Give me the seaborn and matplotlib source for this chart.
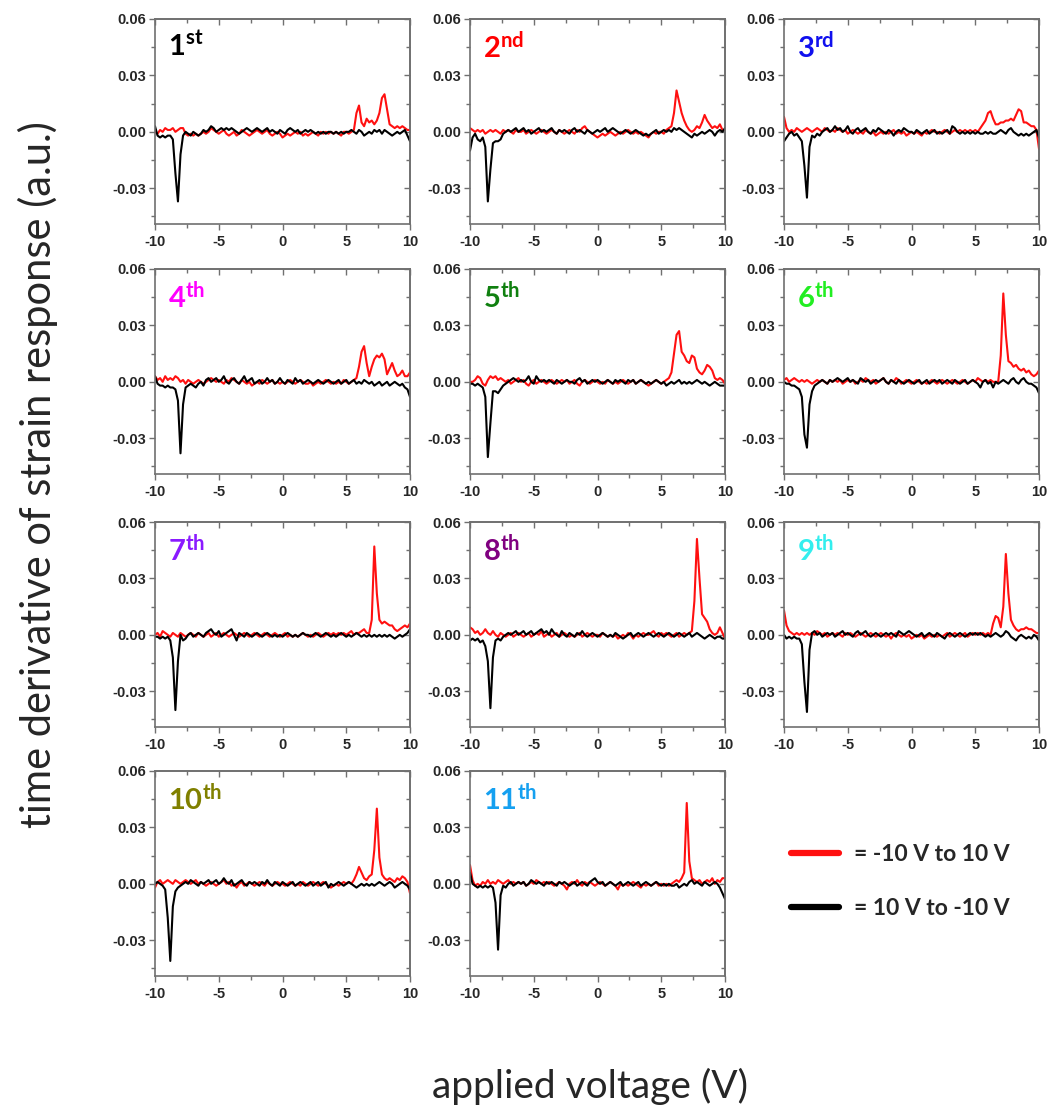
import numpy as np
import pandas as pd
import seaborn as sns
import matplotlib
matplotlib.use("Agg")
import matplotlib.pyplot as plt
from matplotlib.lines import Line2D
from matplotlib.ticker import MultipleLocator, FormatStrFormatter
from matplotlib.font_manager import FontProperties

# Voltage sweep grid (V), 0.2 V steps
volts = np.round(np.arange(-10, 10.001, 0.2), 1)

# Strain-rate traces in units of 1e-3 (a.u.); red = -10 V -> 10 V, black = 10 V -> -10 V
red_1 = [0,-1,1,0,2,1,1,2,0,1, 2,2,-1,-2,-1,-2,-1,-2,-1,0, -1,0,2,1,0,-1,0,1,-1,-2,
         -1,0,-2,-1,1,0,-1,-2,-1,0, 1,0,-1,0,1,-1,-2,-1,0,-1, -3,-2,-1,-2,-1,0,-1,0,-2,-1,
         -2,-1,0,-1,-2,0,-1,0,-1,0, -1,0,-1,-2,0,0,-1,0,1,10, 14,5,3,7,5,6,4,6,10,18,
         20,12,4,3,2,3,2,3,2,1,1]
black_1 = [3,-2,-3,-2,-3,-2,-2,-4,-22,-37, -12,-2,0,-1,-2,0,-1,-2,-1,1, 0,1,3,2,0,1,2,1,2,1,
           2,1,0,-1,0,1,2,1,0,1, 2,1,0,1,2,0,1,0,-1,1, 0,-1,1,2,1,0,1,-1,0,1,
           0,1,0,-1,0,-1,0,-1,0,0, -1,0,-1,0,-1,0,0,1,0,-1, 1,0,-2,-1,0,-1,1,0,1,-1,
           1,0,-1,-2,-1,0,-1,0,1,-2,-5]

red_2 = [2,1,0,1,0,1,-1,0,1,0, 1,0,-1,1,0,1,0,-1,1,0, 0,1,-1,0,1,0,-1,0,1,0,
         -1,0,1,0,-1,1,0,-1,0,1, 0,-1,1,0,2,3,1,0,-1,-2, -3,-2,-1,-2,-1,0,-1,-2,-1,0,
         -1,0,1,0,-1,0,-1,0,-1,-2, -3,-1,0,-1,0,0,-1,1,2,3, 10,22,16,10,6,3,1,0,1,3,
         2,5,9,6,4,2,3,2,4,1,1]
black_2 = [-10,-3,-1,-4,-5,-3,-8,-37,-20,-6, -5,-5,-4,-1,0,1,0,1,2,0, 1,2,0,1,-1,0,1,2,0,1,
           0,1,2,0,-1,1,0,1,0,-1, 1,2,0,1,0,-1,1,0,-1,0, 1,0,1,2,0,1,2,1,0,-1,
           0,1,0,-1,0,1,0,-1,-2,-1, -2,-1,0,1,-1,0,1,0,1,0, 2,1,2,1,0,-1,-2,-3,-1,-2,
           -1,0,-1,0,1,0,-2,0,1,0,2]

red_3 = [8,2,0,1,0,2,1,0,1,2, 1,0,1,2,1,0,2,1,0,1, 0,2,1,0,1,-1,0,1,0,-1,
         0,-1,1,0,-1,0,-2,-1,0,-1, 0,-1,0,1,-1,0,-1,0,-2,-1, 0,-1,0,-1,-2,0,-1,0,1,0,
         0,-1,0,1,0,-1,0,1,0,1, 0,1,0,1,0,1,0,2,4,6, 10,11,7,4,4,5,5,6,6,7,
         6,9,12,11,5,5,4,3,3,1,-9]
black_3 = [-5,-3,-1,0,-2,-1,-3,-5,-18,-35, -8,-2,-3,-1,-2,0,1,2,0,1, 3,1,2,0,1,3,0,-1,1,2,
           0,1,2,0,-1,1,0,2,1,0, -1,1,0,-2,0,1,0,2,1,0, 0,-1,1,0,-1,0,1,-1,0,1,
           -1,0,-1,0,1,-1,3,2,0,-1, 0,-1,0,-1,0,-1,0,-1,-1,0, -1,0,-1,-1,0,1,0,-1,1,2,
           0,-1,-2,-1,-2,-1,-2,-1,0,1,-3]

red_4 = [3,1,2,0,3,1,2,1,3,2, 0,1,-1,1,0,-1,0,1,0,-1, 0,1,2,1,0,1,0,-1,1,0,
         2,1,0,-1,1,0,-1,0,-2,-1, 0,-1,1,0,-1,0,1,-1,0,-1, 0,-1,0,1,0,-1,0,1,0,-1,
         -1,0,-2,-1,0,-1,0,1,0,-1, 0,-1,0,-1,1,0,-1,0,1,2, 8,16,19,10,3,8,12,14,13,15,
         12,4,7,10,6,3,4,6,3,3,5]
black_4 = [3,-1,-2,-2,-3,-2,-3,-3,-4,-10, -38,-12,-3,-2,-1,-2,-3,-1,0,-2, 1,2,0,1,2,0,1,3,0,-1,
           1,2,0,-1,1,3,0,1,2,-1, 0,1,-1,0,2,0,1,-1,0,2, 0,-1,1,0,-1,2,0,1,-1,0,
           1,0,-1,0,1,0,-1,0,1,0, -1,0,1,-1,0,1,-1,0,1,-1, 0,-1,1,0,-1,0,-2,-1,0,-2,
           -1,0,-2,-1,0,-1,-2,-1,-3,-4,-8]

red_5 = [0,0,1,3,2,-1,-2,1,3,2, 3,1,2,1,0,1,-1,0,1,2, 0,1,-1,-2,0,1,-1,0,1,0,
         -1,0,1,0,-1,0,1,0,1,-1, 0,1,-1,-2,0,1,0,-1,0,1, 0,-1,0,-1,1,0,-1,0,-1,0,
         1,0,-1,0,1,-1,0,1,0,-1, -2,-1,0,1,0,-1,0,1,2,5, 15,25,27,16,14,11,10,14,13,7,
         5,4,6,9,8,6,2,1,2,1,-1]
black_5 = [-1,-1,-2,-1,-2,-3,-8,-40,-22,-5, -5,-6,-4,-2,-1,0,1,2,1,0, 1,0,1,3,0,-1,3,1,0,1,
           0,1,0,-1,1,0,-1,0,1,0, 0,-1,1,2,0,1,-1,0,1,0, 1,0,-1,0,1,0,-1,1,0,1,
           0,-1,1,0,1,-1,0,1,0,-1, 0,-1,0,1,0,-1,0,-2,-1,0, -1,0,1,-1,0,-1,0,-1,0,1,
           0,-1,0,-1,-2,-1,0,-1,-2,-2,-2]

red_6 = [1,2,0,1,2,1,0,1,0,1, 0,-1,0,1,0,1,0,-1,1,0, 1,0,1,-1,0,1,0,1,-1,0,
         1,0,2,1,0,1,-1,0,1,2, 0,-1,1,0,2,1,-1,0,1,0, -1,0,1,0,-1,0,-1,0,1,0,
         -1,0,1,0,-1,0,1,0,-1,0, 1,0,-1,0,1,0,2,1,0,1, 0,1,0,0,0,14,47,25,11,10,
         8,9,7,6,7,5,6,4,3,4,6]
black_6 = [0,-1,-1,-2,-2,-3,-4,-8,-28,-35, -12,-5,-2,-1,0,1,0,-1,1,0, 1,2,1,0,1,2,0,1,0,-1,
           2,1,0,1,-1,0,1,0,1,2, 0,-1,1,0,-1,1,0,-1,0,1, 0,-1,0,1,-1,0,1,-1,0,1,
           0,1,-1,0,1,0,-1,1,0,-1, 0,1,-1,0,1,0,-1,-3,0,1, -1,0,-3,0,-1,0,1,0,-1,1,
           2,0,-1,1,2,0,-1,-1,-2,-3,-6]

red_7 = [0,1,-1,2,1,0,-1,1,0,-1, 1,0,-1,0,1,0,-1,1,0,-1, 0,1,-1,0,1,-1,0,1,0,-1,
         0,1,0,-1,0,1,0,-1,0,1, 0,-1,0,1,0,-1,0,1,0,-1, 0,1,-1,0,-1,0,-1,0,1,0,
         -1,0,-1,0,1,0,-1,0,1,0, 1,0,1,0,1,0,1,2,0,1, 1,2,3,1,1,8,47,22,8,6,
         7,6,5,5,3,2,3,4,5,4,6]
black_7 = [-1,-1,-2,-1,-2,-1,-3,-12,-40,-14, 0,-3,-2,0,1,-1,0,1,0,-1, 1,2,3,1,0,2,-1,0,1,2,
           3,0,-3,1,0,-1,1,0,-1,0, 1,0,-1,0,1,0,-1,0,-1,0, -1,0,1,0,-1,0,-1,0,1,0,
           0,-1,0,1,0,-1,0,1,0,-1, 0,-1,0,1,0,-1,0,-1,0,1, 0,-1,0,-1,0,-1,0,-1,0,-1,
           0,-1,0,-1,-2,-1,0,-1,0,1,3]

red_8 = [4,3,1,2,0,1,3,1,0,2, 0,-1,1,0,-1,0,1,-1,0,1, 0,-1,0,1,-1,0,1,0,2,-1,
         0,1,-1,0,1,-1,0,1,0,-1, 0,-1,0,1,-1,0,1,0,-1,0, 0,-1,1,0,-1,0,-1,0,-2,-1,
         0,-1,1,0,-2,0,-1,0,1,0, 0,1,2,0,-1,1,0,1,0,-1, 0,1,-1,0,1,0,1,2,18,51,
         30,11,9,7,3,1,0,1,4,1,-2]
black_8 = [-3,-2,-3,-2,-4,-3,-6,-14,-39,-12, -3,-2,-3,-1,0,1,0,1,2,0, 1,2,0,1,2,0,1,2,3,1,
           2,0,3,1,0,-1,2,0,-1,1, 0,-1,1,0,2,0,-1,0,1,0, -1,0,1,0,-1,0,-1,1,0,-1,
           -2,-1,0,1,-1,0,1,0,-1,0, 1,0,-1,0,1,0,-1,0,1,0, -1,0,1,0,-1,0,1,-1,0,1,
           0,-1,-2,-1,0,-1,-2,-1,-1,-2,-2]

red_9 = [13,5,2,1,0,1,0,1,0,1, 0,1,0,2,1,0,1,-1,0,1, 0,1,0,-1,1,0,1,0,-1,0,
         1,0,-1,0,1,0,-1,0,1,0, -1,0,-2,0,1,0,-1,0,-1,0, -2,-1,0,-1,0,-2,-1,0,-1,0,
         -1,0,-1,0,1,-1,0,1,0,-1, 0,1,-1,0,1,0,1,0,1,0, 1,0,6,10,9,4,15,43,22,8,
         5,3,2,3,3,4,3,3,2,1,1]
black_9 = [0,-2,-1,-2,-1,-2,-2,-5,-25,-41, -8,1,2,0,1,-1,0,1,0,1, -1,0,1,2,0,1,0,-1,1,2,
           0,1,2,0,-1,0,1,0,-1,0, 1,0,1,0,-1,2,1,0,1,2, 1,0,-1,0,1,-1,0,1,0,-1,
           1,0,-1,-2,0,1,0,-1,0,1, 0,-1,0,1,0,1,0,1,0,-1, 0,-1,0,1,0,-1,0,2,1,-1,
           -2,-3,-1,0,-1,-2,-1,-2,0,-1,-3]

red_10 = [-2,1,2,0,1,2,1,0,2,1, 0,1,2,1,0,1,2,0,1,0, -1,0,1,0,-1,0,1,2,0,1,
          -1,0,-2,0,1,-1,0,1,0,-1, 0,1,0,-1,1,0,-1,0,1,0, 0,-1,0,1,0,-1,0,-1,1,0,
          -1,0,1,0,-1,0,1,0,-1,-2, -1,0,-1,0,1,0,1,0,2,5, 9,6,3,2,4,5,18,40,14,5,
          3,2,3,2,1,3,2,4,3,1,-5]
black_10 = [0,1,0,-1,-3,-18,-41,-12,-4,-2, -1,0,1,0,2,1,0,-1,1,0, 1,2,0,1,2,0,1,3,1,0,
            2,-1,0,1,2,0,-1,1,0,1, 0,-1,1,0,2,0,-1,1,0,-1, 1,0,-1,0,1,-1,0,1,0,-1,
            0,1,-1,0,1,-1,0,1,-2,0, -1,0,1,0,-1,0,1,0,-1,-2, -1,0,-1,0,-1,0,-1,0,1,0,
            -1,0,1,0,-2,-1,0,1,0,-1,-3]

red_11 = [10,2,-1,0,-1,1,0,2,0,1, 0,2,1,0,1,2,0,1,0,1, 0,1,-1,0,1,0,2,1,0,1,
          0,1,0,-1,0,1,0,-1,-3,0, 1,0,2,0,-1,1,0,1,0,-1, 0,1,0,-1,0,1,0,-1,-3,0,
          -1,0,-1,0,1,0,-1,-2,0,-1, 0,-1,0,1,-1,0,-1,0,-1,0, 1,2,1,3,6,43,12,3,2,1,
          2,0,1,2,1,3,0,2,1,3,3]
black_11 = [6,0,-1,-2,-1,-2,-1,-2,-1,-2, -10,-35,-6,-1,-2,0,1,-1,0,1, 0,1,-1,0,2,1,0,1,0,-1,
            1,0,1,0,-1,1,0,1,0,-1, 0,1,-1,0,1,0,-1,1,2,3, 1,0,1,-1,0,1,0,-1,0,1,
            -1,0,1,0,-1,0,1,-1,0,1, 0,-1,0,1,0,-1,0,-1,0,-1, -1,0,-2,-1,0,-1,1,2,0,1,
            0,-1,1,0,-1,0,1,0,-2,-5,-8]

cycle_labels = [r"1^{st}", r"2^{nd}", r"3^{rd}", r"4^{th}", r"5^{th}", r"6^{th}",
                r"7^{th}", r"8^{th}", r"9^{th}", r"10^{th}", r"11^{th}"]
cycle_colors = ["#000000", "#ff0000", "#1010ee", "#ff00ff", "#108010", "#22ee22",
                "#8a1aff", "#800080", "#33eeee", "#808000", "#15a0f0"]
red_series = [red_1, red_2, red_3, red_4, red_5, red_6, red_7, red_8, red_9, red_10, red_11]
black_series = [black_1, black_2, black_3, black_4, black_5, black_6, black_7, black_8,
                black_9, black_10, black_11]

sns.set_theme(style="white")
plt.rcParams["font.family"] = ["Liberation Sans", "DejaVu Sans"]
plt.rcParams["axes.unicode_minus"] = False
plt.rcParams["mathtext.fontset"] = "custom"
plt.rcParams["mathtext.bf"] = "Lato:bold"
plt.rcParams["mathtext.rm"] = "Lato"

W, H = 1052, 1109
fig = plt.figure(figsize=(W / 100, H / 100), dpi=100)

col_left = [155, 470, 784]
row_bottom = [224, 474, 727, 976]
ax_w, ax_h = 255, 205
spine_col = "#707070"

for k in range(11):
    r, c = divmod(k, 3)
    ax = fig.add_axes([col_left[c] / W, 1 - row_bottom[r] / H, ax_w / W, ax_h / H])
    df = pd.DataFrame({"V": volts,
                       "up": np.array(red_series[k]) * 1e-3,
                       "down": np.array(black_series[k]) * 1e-3})
    sns.lineplot(data=df, x="V", y="up", ax=ax, color="#ff1010", lw=1.5,
                 estimator=None, sort=False)
    sns.lineplot(data=df, x="V", y="down", ax=ax, color="#000000", lw=1.5,
                 estimator=None, sort=False)
    ax.set_xlim(-10, 10)
    ax.set_ylim(-0.049, 0.06)
    ax.set_xlabel("")
    ax.set_ylabel("")
    ax.set_xticks([-10, -5, 0, 5, 10])
    ax.set_yticks([-0.03, 0.0, 0.03, 0.06])
    ax.xaxis.set_minor_locator(MultipleLocator(2.5))
    ax.yaxis.set_minor_locator(MultipleLocator(0.015))
    ax.yaxis.set_major_formatter(FormatStrFormatter("%.2f"))
    ax.tick_params(which="both", direction="out", color=spine_col, width=1.0,
                   bottom=True, left=True, top=False, right=False)
    ax.tick_params(which="major", length=4, labelsize=10.5, pad=2.5)
    ax.tick_params(which="minor", length=3)
    ax.tick_params(axis="x", which="major", pad=4)
    for lab in ax.get_xticklabels() + ax.get_yticklabels():
        lab.set_fontweight("bold")
    for s in ax.spines.values():
        s.set_color(spine_col)
        s.set_linewidth(1.2)
    # inward ticks on the top and right frame
    sx = ax.secondary_xaxis("top")
    sx.set_xticks([-10, -5, 0, 5, 10])
    sx.xaxis.set_minor_locator(MultipleLocator(2.5))
    sx.tick_params(which="both", direction="in", color=spine_col, labeltop=False, width=1.0)
    sx.tick_params(which="major", length=4)
    sx.tick_params(which="minor", length=3)
    sx.spines["top"].set_color(spine_col)
    sx.spines["top"].set_linewidth(1.2)
    sy = ax.secondary_yaxis("right")
    sy.set_yticks([-0.03, 0.0, 0.03, 0.06])
    sy.yaxis.set_minor_locator(MultipleLocator(0.015))
    sy.tick_params(which="both", direction="in", color=spine_col, labelright=False, width=1.0)
    sy.tick_params(which="major", length=4)
    sy.tick_params(which="minor", length=3)
    sy.spines["right"].set_color(spine_col)
    sy.spines["right"].set_linewidth(1.2)
    ax.text(0.05, 0.935, r"$\mathbf{" + cycle_labels[k] + "}$", transform=ax.transAxes,
            ha="left", va="top", fontsize=21, color=cycle_colors[k])

fig.text(38 / W, 1 - 475 / H, "time derivative of strain response (a.u.)",
         rotation=90, ha="center", va="center", fontsize=30, family="Lato")
fig.text(590 / W, 1 - 1086 / H, "applied voltage (V)",
         ha="center", va="center", fontsize=28, family="Lato")

handles = [Line2D([], [], color="#ff1010", lw=4.5), Line2D([], [], color="#000000", lw=4.5)]
fig.legend(handles, ["= -10 V to 10 V", "= 10 V to -10 V"], loc="upper left",
           bbox_to_anchor=(782 / W, 1 - 835 / H), frameon=False, borderaxespad=0,
           prop=FontProperties(family="Lato", weight="bold", size=16.5),
           handlelength=2.1, handletextpad=0.65, labelspacing=1.45)

fig.savefig("out.png", dpi=100, facecolor="white")
